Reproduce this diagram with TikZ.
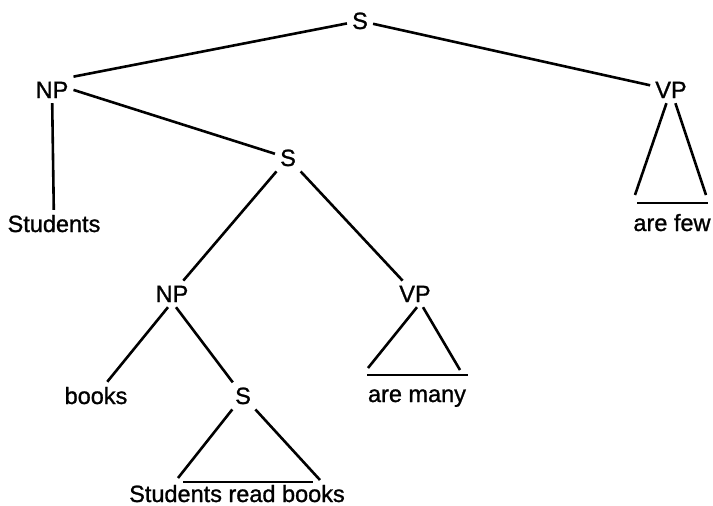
\documentclass[tikz,border=0pt]{standalone}
\usepackage{fontspec}
\setmainfont{Liberation Sans}[BoldFont=Liberation Sans, BoldFeatures={FakeBold=1.1}]
\tikzset{
  cat/.style={inner sep=5pt, anchor=base, font=\fontsize{23.5}{28}\selectfont\bfseries},
  branch/.style={line width=2.6pt, draw=black},
  roof/.style={line width=2.6pt, draw=black},
}

\begin{document}
\begin{tikzpicture}[x=1pt,y=-1pt]
  \useasboundingbox (0,0) rectangle (713,506);
  % upper levels
  \node[cat] (s0)  at (360,29)  {S};
  \node[cat] (np1) at (52,98)   {NP};
  \node[cat] (vp1) at (671,98)  {VP};
  \node[cat] (st)  at (54,232)  {Students};
  \node[cat] (few) at (672,231) {are few};
  \node[cat] (s1)  at (288,166) {S};
  % relative clause
  \node[cat] (np2) at (172,302) {NP};
  \node[cat] (vp2) at (415,302) {VP};
  \node[cat] (bk)  at (96,404)  {books};
  \node[cat] (s2)  at (243,404) {S};
  \node[cat] (many) at (417,402) {are many};
  \node[cat] (srb) at (237,502) {Students read books};
  % corners of the roofs
  \coordinate (vp1l) at (635,195);
  \coordinate (vp1r) at (706,195);
  \coordinate (vp1a) at (637,203);
  \coordinate (vp1b) at (708,203);
  \coordinate (vp2l) at (368,368);
  \coordinate (vp2r) at (460,370);
  \coordinate (vp2a) at (367,375);
  \coordinate (vp2b) at (468,375);
  \coordinate (s2l) at (178,478);
  \coordinate (s2r) at (320,480);
  \coordinate (s2a) at (183,482);
  \coordinate (s2b) at (313,482);

  \draw[branch] (s0) -- (np1.north east);
  \draw[branch] (s0) -- (vp1);
  \draw[branch] (np1) -- (st);
  \draw[branch] (np1.east) -- (s1);
  \draw[branch] (s1) -- (np2);
  \draw[branch] (s1) -- (vp2);
  \draw[branch] ([xshift=-4pt]np2.south) -- (bk);
  \draw[branch] ([xshift=4pt]np2.south) -- (s2);

  \draw[roof] (vp1) -- (vp1l);
  \draw[roof] (vp1) -- (vp1r);
  \draw[roof] (vp1a) -- (vp1b);
  \draw[roof] ([xshift=2pt]vp2.south) -- (vp2l);
  \draw[roof] ([xshift=8pt]vp2.south) -- (vp2r);
  \draw[roof] (vp2a) -- (vp2b);
  \draw[roof] (s2) -- (s2l);
  \draw[roof] (s2) -- (s2r);
  \draw[roof] (s2a) -- (s2b);
\end{tikzpicture}
\end{document}
